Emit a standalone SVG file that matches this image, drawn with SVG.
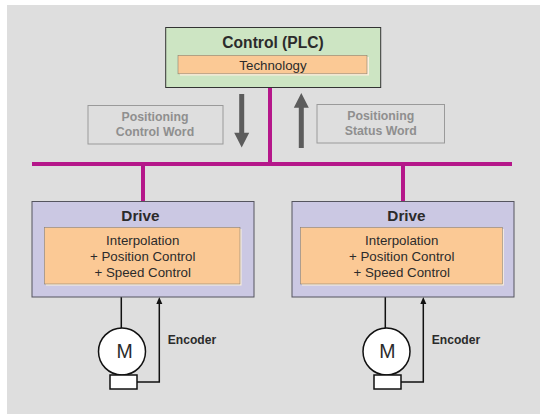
<svg xmlns="http://www.w3.org/2000/svg" width="540" height="414" viewBox="0 0 540 414">
<style>
text{font-family:"Liberation Sans",Arial,sans-serif;text-anchor:middle;fill:#2b2b2b}
.b{font-weight:bold}
.t{font-size:13.300px}
.h{font-size:15.300px;font-weight:bold}
.g{font-size:12.300px;font-weight:bold;fill:#8f8f8f}
.gb{fill:none;stroke:#9a9a9a;stroke-width:1}
.o{fill:#fbc995;stroke:#8a8070;stroke-width:.6}
.s{fill:#fdf0dc}
.d{fill:#cbc8e3;stroke:#55555f;stroke-width:1}
.bus{fill:none;stroke:#b5178a;stroke-width:4}
.w{fill:none;stroke:#111;stroke-width:1.5}
.mw{fill:#fff;stroke:#111;stroke-width:1.5}
.ar{fill:#5c5c5c}
</style>
<rect width="540" height="414" fill="#fff"/>
<rect x="7" y="5" width="533" height="409" fill="#dedede"/>
<g id="connectors">
<path class="bus" d="M32 164H512M270 87V164M143 164V201M403 164V201"/>
<path class="ar" d="M239.200 94H244.200V132.700H249.200L241.700 147.500L234.200 132.700H239.200Z"/>
<path class="ar" d="M298.800 148V107.700H293.800L301.300 93L308.800 107.700H303.800V148Z"/>
<path class="w" d="M121.300 297V328M137 382H159.300V300"/>
<path d="M159.300 297l-3 7h6z" fill="#111"/>
<path class="w" d="M385.300 297V328M401 382H423.300V300"/>
<path d="M423.300 297l-3 7h6z" fill="#111"/>
</g>
<g id="control">
<rect x="165.700" y="27.500" width="215" height="60" fill="#cde5c3" stroke="#333" stroke-width="1"/>
<rect x="180" y="57" width="189" height="18.500" class="s"/>
<rect x="178" y="55.300" width="189" height="18.500" class="o"/>
<text class="h" x="273" y="47.500" style="font-size:15.600px">Control (PLC)</text>
<text class="t" x="273" y="70">Technology</text>
</g>
<g id="control-word">
<rect class="gb" x="88" y="105.500" width="135" height="38.500"/>
<text class="g" x="155" y="121.300">Positioning</text>
<text class="g" x="155" y="136">Control Word</text>
</g>
<g id="status-word">
<rect class="gb" x="317" y="104.500" width="127.500" height="38.500"/>
<text class="g" x="380.800" y="120.300">Positioning</text>
<text class="g" x="380.800" y="135">Status Word</text>
</g>
<g id="drive-1">
<rect class="d" x="32" y="201.500" width="222" height="95.500"/>
<rect x="46" y="229" width="195.500" height="56.500" class="s"/>
<rect x="44.500" y="227.500" width="195.500" height="56.500" class="o"/>
<text class="h" x="140.500" y="221">Drive</text>
<text class="t" x="142.700" y="245">Interpolation</text>
<text class="t" x="142.700" y="261">+ Position Control</text>
<text class="t" x="142.700" y="277">+ Speed Control</text>
</g>
<g id="drive-2">
<rect class="d" x="292" y="201.500" width="222" height="95.500"/>
<rect x="302" y="229" width="201.800" height="56.500" class="s"/>
<rect x="300.500" y="227.500" width="201.800" height="56.500" class="o"/>
<text class="h" x="406.500" y="221">Drive</text>
<text class="t" x="401.700" y="245">Interpolation</text>
<text class="t" x="401.700" y="261">+ Position Control</text>
<text class="t" x="401.700" y="277">+ Speed Control</text>
</g>
<g id="motor-1">
<circle class="mw" cx="122" cy="351.500" r="23.500"/>
<rect class="mw" x="110" y="375" width="27" height="14"/>
<text x="124.700" y="358" font-size="19.500" fill="#3a3a3a">M</text>
</g>
<g id="motor-2">
<circle class="mw" cx="386.500" cy="351.500" r="23.500"/>
<rect class="mw" x="374" y="375" width="27" height="14"/>
<text x="387.300" y="358" font-size="19.500" fill="#3a3a3a">M</text>
</g>
<text class="b" x="192" y="344" font-size="12.100">Encoder</text>
<text class="b" x="456" y="344" font-size="12.100">Encoder</text>
</svg>
